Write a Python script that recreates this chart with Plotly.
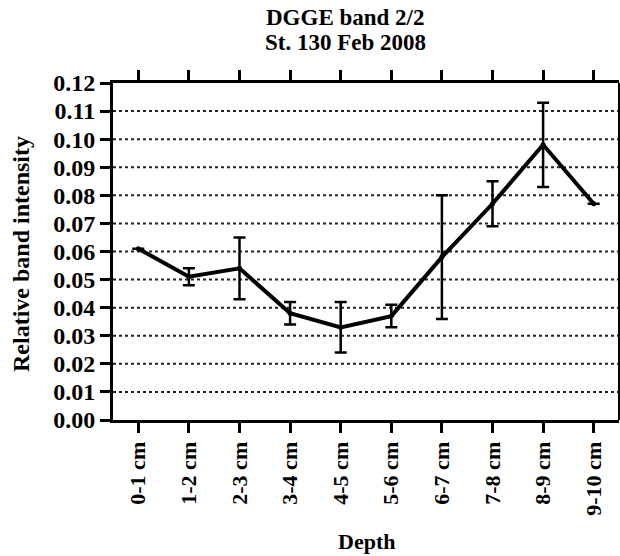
import plotly.graph_objects as go

depths = ["0-1 cm", "1-2 cm", "2-3 cm", "3-4 cm", "4-5 cm", "5-6 cm", "6-7 cm", "7-8 cm", "8-9 cm", "9-10 cm"]
intensity = [0.061, 0.051, 0.054, 0.038, 0.033, 0.037, 0.058, 0.077, 0.098, 0.077]
err = [0.0, 0.003, 0.011, 0.004, 0.009, 0.004, 0.022, 0.008, 0.015, 0.0]
yticks = [0.00, 0.01, 0.02, 0.03, 0.04, 0.05, 0.06, 0.07, 0.08, 0.09, 0.10, 0.11, 0.12]

FONT = "Liberation Serif"
L, R, T, B = 113, 619, 83, 420
PW, PH = R - L, B - T

def px(x):
    return (x - L) / PW

def py(y):
    return (B - y) / PH

fig = go.Figure()
fig.add_trace(go.Scatter(
    x=list(range(len(depths))), y=intensity,
    mode="lines+markers",
    line=dict(color="black", width=4),
    marker=dict(color="black", size=5),
    error_y=dict(type="data", array=err, visible=True, color="black", thickness=2.5, width=6),
    showlegend=False,
))

fig.update_layout(
    width=620, height=556,
    margin=dict(l=L, r=620 - R, t=T, b=556 - B),
    paper_bgcolor="white", plot_bgcolor="white",
    font=dict(family=FONT, color="black", size=20, weight="bold"),
    xaxis=dict(
        range=[-0.5, 9.5],
        tickmode="array", tickvals=list(range(len(depths))), ticktext=depths,
        tickangle=-90,
        tickfont=dict(family=FONT, size=22, weight="bold", color="black"),
        showline=True, linecolor="black", linewidth=3, mirror="ticks",
        ticks="outside", ticklen=10, tickwidth=3, tickcolor="black",
        showgrid=False, zeroline=False,
    ),
    yaxis=dict(
        range=[0, 0.12],
        tickmode="array", tickvals=yticks, ticktext=[f"{v:.2f}" for v in yticks],
        tickfont=dict(family=FONT, size=24, weight="bold", color="black"),
        showline=True, linecolor="black", linewidth=3, mirror=False,
        ticks="outside", ticklen=10, tickwidth=3, tickcolor="black",
        showgrid=False, zeroline=False,
    ),
    shapes=[dict(type="line", xref="paper", yref="paper", x0=1, x1=1, y0=0, y1=1,
                 line=dict(color="black", width=2))],
    annotations=[
        dict(text="DGGE band 2/2", xref="paper", yref="paper",
             x=px(345), y=py(18), xanchor="center", yanchor="middle",
             showarrow=False, font=dict(family=FONT, size=23, weight="bold", color="black")),
        dict(text="St. 130 Feb 2008", xref="paper", yref="paper",
             x=px(345), y=py(43), xanchor="center", yanchor="middle",
             showarrow=False, font=dict(family=FONT, size=23, weight="bold", color="black")),
        dict(text="Depth", xref="paper", yref="paper",
             x=px(366), y=py(541), xanchor="center", yanchor="middle",
             showarrow=False, font=dict(family=FONT, size=22, weight="bold", color="black")),
        dict(text="Relative band intensity", xref="paper", yref="paper",
             x=px(21), y=py(254), xanchor="center", yanchor="middle",
             textangle=-90, showarrow=False,
             font=dict(family=FONT, size=24, weight="bold", color="black")),
    ],
)

for v in yticks[1:-1]:
    fig.add_shape(type="line", xref="paper", yref="y", x0=0, x1=1, y0=v, y1=v,
                  line=dict(color="#222", width=2, dash="dot"), layer="below")

fig.write_html("out.html", config={"displayModeBar": False},
               post_script="document.body.style.margin='0';document.body.style.padding='0';")
